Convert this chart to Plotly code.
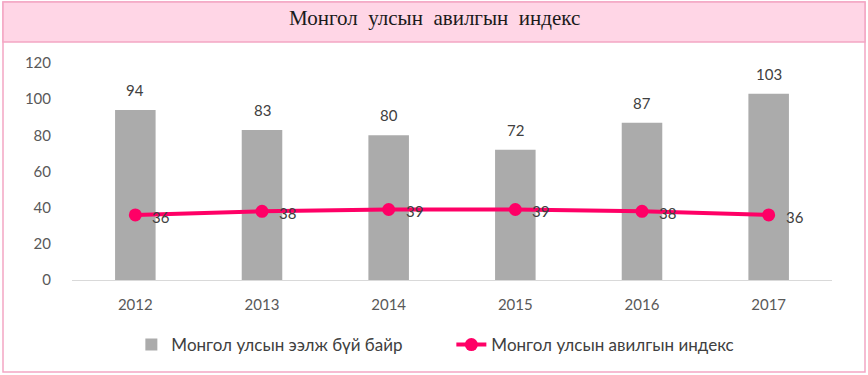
import plotly.graph_objects as go

years = ["2012", "2013", "2014", "2015", "2016", "2017"]
rank_values = [94, 83, 80, 72, 87, 103]
index_values = [36, 38, 39, 39, 38, 36]
y_ticks = [0, 20, 40, 60, 80, 100, 120]

W, H = 868, 375
FONT = "Lato, Open Sans, sans-serif"

fig = go.Figure()
fig.add_trace(go.Bar(
    x=years, y=rank_values, name="Монгол улсын ээлж бүй байр",
    marker=dict(color="#ABABAB", line=dict(width=0)), width=0.32,
))
fig.add_trace(go.Scatter(
    x=years, y=index_values, name="Монгол улсын авилгын индекс",
    mode="lines+markers",
    line=dict(color="#FF0066", width=4),
    marker=dict(color="#FF0066", size=13),
))

annotations = []
for i, v in enumerate(rank_values):
    annotations.append(dict(x=i, y=v, xref="x", yref="y", text=str(v), showarrow=False,
                            yshift=20, font=dict(family=FONT, size=15, color="#404040")))
for i, v in enumerate(index_values):
    annotations.append(dict(x=i, y=v, xref="x", yref="y", text=str(v), showarrow=False,
                            xanchor="left", xshift=15, yshift=-2,
                            font=dict(family=FONT, size=15, color="#404040")))
annotations.append(dict(xref="paper", yref="paper", x=0.5, y=1 - 18 / H, yanchor="middle",
                        text="Монгол  улсын  авилгын  индекс", showarrow=False,
                        font=dict(family="Liberation Serif, serif", size=21, color="#1a1a1a")))

shapes = [
    dict(type="rect", xref="paper", yref="paper", x0=3 / W, x1=865 / W,
         y0=1 - 372 / H, y1=1 - 2 / H, line=dict(color="#F4A6C4", width=1.5),
         fillcolor="rgba(0,0,0,0)", layer="below"),
    dict(type="rect", xref="paper", yref="paper", x0=3 / W, x1=865 / W,
         y0=1 - 42 / H, y1=1 - 2 / H, line=dict(color="#F4A6C4", width=1.5),
         fillcolor="#FFD6E6", layer="below"),
]

fig.update_layout(
    width=W, height=H,
    margin=dict(l=0, r=0, t=0, b=0, autoexpand=False),
    paper_bgcolor="white", plot_bgcolor="white",
    font=dict(family=FONT, size=15, color="#595959"),
    xaxis=dict(domain=[72 / W, 832 / W], range=[-0.5, 5.5], type="category",
               showgrid=False, showline=True, linecolor="#D9D9D9", linewidth=1,
               ticks="", tickfont=dict(size=15, color="#595959"), zeroline=False,
               ticklabelstandoff=11),
    yaxis=dict(domain=[1 - 280 / H, 1 - 63 / H], range=[0, 120], tickvals=y_ticks,
               showgrid=False, showline=False, zeroline=False, ticks="",
               tickfont=dict(size=15, color="#595959"), ticklabelstandoff=20),
    legend=dict(orientation="h", x=0.52, xanchor="center", y=1 - 345 / H, yanchor="middle",
                font=dict(size=17, color="#404040"), itemwidth=30, tracegroupgap=0,
                entrywidth=275, entrywidthmode="pixels"),
    showlegend=True,
    annotations=annotations, shapes=shapes,
)

fig.write_html("out.html", config={"displayModeBar": False},
               post_script="document.body.style.margin='0';document.body.style.padding='0';")
